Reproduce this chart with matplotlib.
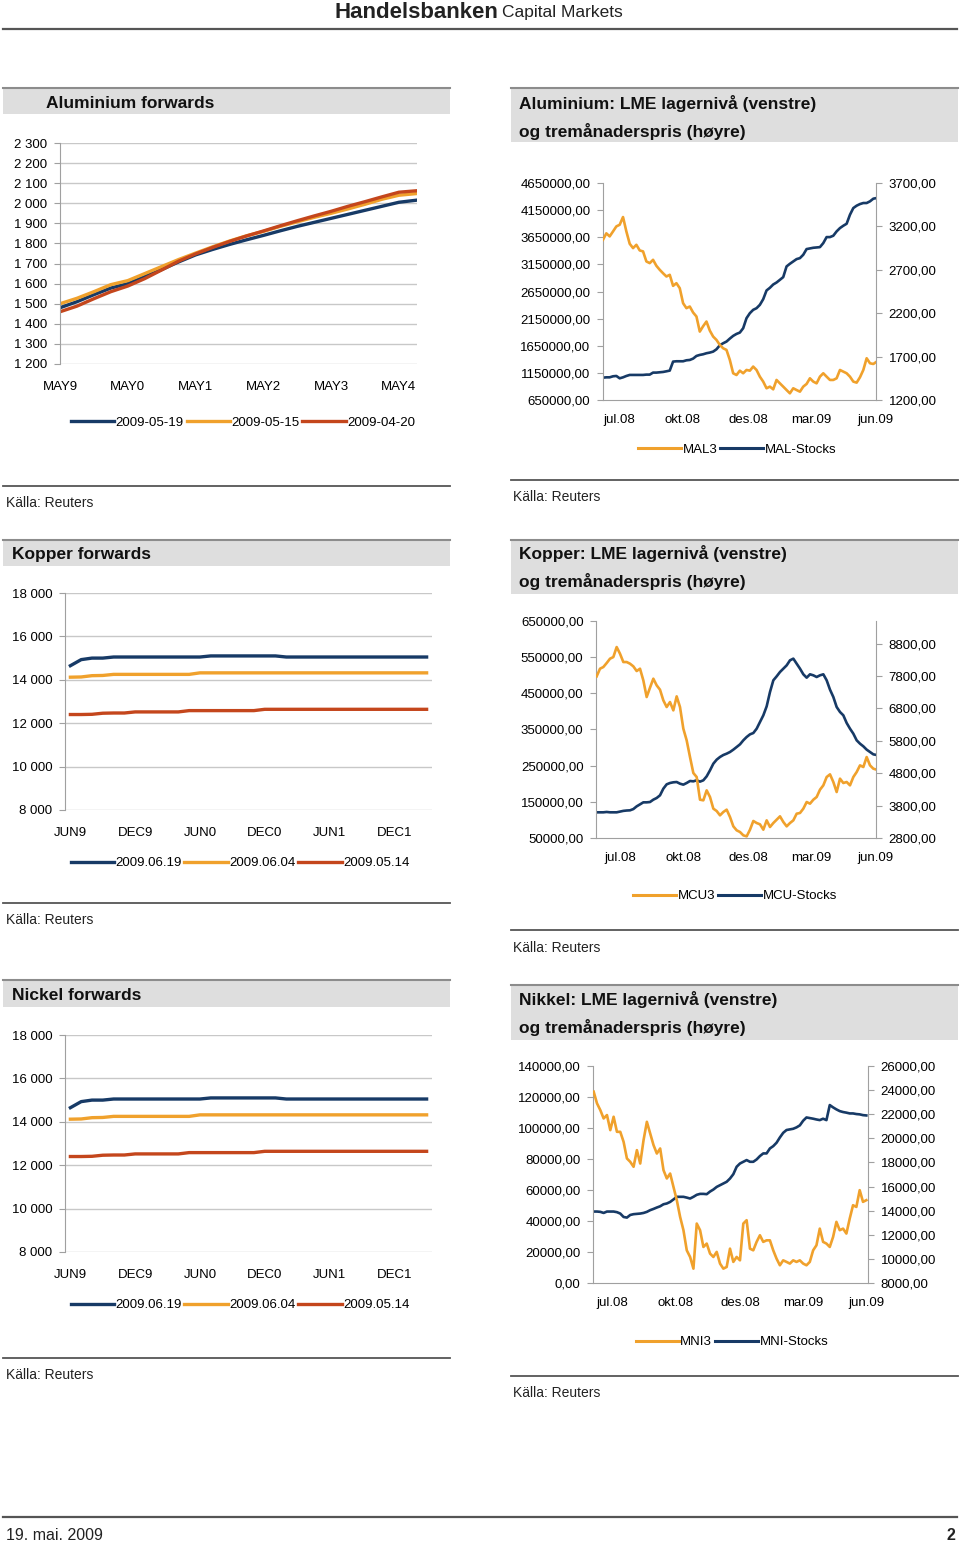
import numpy as np
import matplotlib
matplotlib.use("Agg")
import matplotlib.pyplot as plt
from matplotlib.patches import Rectangle
from matplotlib.lines import Line2D
from matplotlib.ticker import FuncFormatter

plt.rcParams['font.family'] = ['Liberation Sans', 'DejaVu Sans']

NAVY = '#173a66'
ORANGE = '#f0a12c'
RED = '#c4461c'
GRID = '#c8c8c8'
AXIS = '#a0a0a0'

# --- Aluminium forwards (month offset from MAY9) ---
AL_FWD_MONTH = [0, 3, 6, 9, 12, 15, 18, 21, 24, 27, 30, 33, 36, 39, 42, 45, 48, 51, 54, 57, 60, 63]
AL_FWD_0519 = [1480, 1510, 1545, 1578, 1600, 1635, 1670, 1708, 1743, 1770, 1795, 1818,
               1840, 1863, 1885, 1905, 1925, 1945, 1965, 1985, 2005, 2015]
AL_FWD_0515 = [1500, 1527, 1560, 1595, 1615, 1650, 1685, 1720, 1752, 1783, 1812, 1838,
               1860, 1885, 1908, 1930, 1950, 1972, 1995, 2020, 2040, 2048]
AL_FWD_0420 = [1460, 1488, 1525, 1560, 1588, 1625, 1668, 1712, 1748, 1780, 1810, 1837,
               1862, 1888, 1913, 1937, 1960, 1985, 2008, 2032, 2055, 2062]
AL_FWD_TICKS = ['MAY9', 'MAY0', 'MAY1', 'MAY2', 'MAY3', 'MAY4']
AL_FWD_DATES = ['2009-05-19', '2009-05-15', '2009-04-20']

# --- Kopper forwards (monthly from JUN9) ---
CU_FWD_0619 = [14650, 14930, 15000, 15000, 15050, 15050, 15050, 15050, 15050, 15050, 15050, 15050,
               15050, 15100, 15100, 15100, 15100, 15100, 15100, 15100, 15050, 15050, 15050, 15050,
               15050, 15050, 15050, 15050, 15050, 15050, 15050, 15050, 15050, 15050]
CU_FWD_0604 = [14120, 14130, 14190, 14200, 14250, 14250, 14250, 14250, 14250, 14250, 14250, 14250,
               14320, 14320, 14320, 14320, 14320, 14320, 14320, 14320, 14320, 14320, 14320, 14320,
               14320, 14320, 14320, 14320, 14320, 14320, 14320, 14320, 14320, 14320]
CU_FWD_0514 = [12400, 12400, 12410, 12460, 12470, 12470, 12520, 12520, 12520, 12520, 12520, 12580,
               12580, 12580, 12580, 12580, 12580, 12580, 12640, 12640, 12640, 12640, 12640, 12640,
               12640, 12640, 12640, 12640, 12640, 12640, 12640, 12640, 12640, 12640]
FWD_TICKS = ['JUN9', 'DEC9', 'JUN0', 'DEC0', 'JUN1', 'DEC1']
FWD_DATES = ['2009.06.19', '2009.06.04', '2009.05.14']

# --- Nickel forwards (the source shows the same curves as copper) ---
NI_FWD_0619 = list(CU_FWD_0619)
NI_FWD_0604 = list(CU_FWD_0604)
NI_FWD_0514 = list(CU_FWD_0514)

# --- LME stocks (left axis) and 3-month price (right axis) ---
MONTH_TICKS = ['jul.08', 'okt.08', 'des.08', 'mar.09', 'jun.09']

MAL_STOCKS = [1062000, 1068000, 1068000, 1087000, 1093000, 1050000, 1068000, 1093000, 1112000, 1112000,
              1112000, 1112000, 1112000, 1118000, 1118000, 1155000, 1155000, 1161000, 1167000, 1179000,
              1192000, 1358000, 1364000, 1364000, 1364000, 1382000, 1388000, 1413000, 1462000, 1481000,
              1493000, 1512000, 1524000, 1542000, 1585000, 1659000, 1696000, 1727000, 1782000, 1832000,
              1868000, 1893000, 1973000, 2158000, 2250000, 2312000, 2342000, 2404000, 2508000, 2669000,
              2718000, 2779000, 2816000, 2865000, 2915000, 3112000, 3161000, 3204000, 3247000, 3265000,
              3327000, 3432000, 3444000, 3456000, 3462000, 3468000, 3542000, 3653000, 3653000, 3678000,
              3758000, 3819000, 3862000, 3899000, 4065000, 4188000, 4232000, 4262000, 4281000, 4281000,
              4312000, 4361000, 4373000]
MAL3 = [3046, 3120, 3085, 3142, 3200, 3219, 3308, 3142, 3000, 2950,
        2988, 2923, 2912, 2796, 2777, 2815, 2746, 2700, 2660, 2623,
        2642, 2515, 2546, 2488, 2315, 2258, 2277, 2208, 2162, 1988,
        2050, 2104, 2000, 1931, 1892, 1835, 1796, 1777, 1662, 1508,
        1488, 1538, 1508, 1546, 1538, 1585, 1546, 1469, 1412, 1335,
        1354, 1323, 1431, 1392, 1354, 1315, 1277, 1335, 1315, 1296,
        1354, 1385, 1450, 1412, 1392, 1469, 1508, 1469, 1431, 1431,
        1450, 1546, 1527, 1508, 1469, 1412, 1400, 1462, 1546, 1681,
        1623, 1615, 1642]
MAL_TICK_POS = [4.8, 23.8, 43.5, 62.5, 81.5]

MCU_STOCKS = [121000, 121000, 121000, 122000, 121000, 121000, 121000, 123000, 125000, 126000,
              126500, 130000, 137500, 143000, 148600, 148600, 149500, 156000, 160600, 168000,
              186400, 198400, 202100, 204000, 204800, 200200, 197500, 202100, 207600, 206700,
              209500, 205800, 209500, 220500, 237100, 255500, 266600, 274000, 279500, 283200,
              287800, 294300, 301600, 309000, 320100, 329300, 336600, 340300, 352300, 370800,
              389200, 414100, 453700, 486000, 497000, 509000, 518200, 527400, 541300, 545900,
              532000, 518200, 502600, 493300, 502600, 499800, 495200, 499800, 502600, 486000,
              460200, 439900, 412200, 398400, 389200, 368000, 352300, 338500, 320100, 310800,
              303500, 294300, 287800, 281300, 279500]
MCU3 = [7791, 8027, 8079, 8202, 8336, 8387, 8696, 8490, 8233, 8233,
        8182, 8100, 7955, 8027, 7667, 7153, 7441, 7719, 7513, 7379,
        7050, 6844, 6998, 6741, 7173, 6844, 6175, 5815, 5300, 4807,
        4683, 3983, 3963, 4271, 4066, 3706, 3633, 3500, 3603, 3675,
        3448, 3160, 3037, 2985, 2882, 2851, 3057, 3325, 3263, 3222,
        3057, 3345, 3140, 3263, 3366, 3469, 3294, 3160, 3263, 3345,
        3551, 3572, 3706, 3911, 3860, 3983, 4066, 4292, 4426, 4683,
        4765, 4529, 4220, 4632, 4498, 4529, 4426, 4683, 4837, 5043,
        4992, 5300, 5043, 4940, 4909]
MCU_TICK_POS = [7.2, 26.2, 45.5, 64.5, 83.5]

MNI_STOCKS = [46100, 46100, 45900, 45200, 46100, 46100, 46100, 45700, 44800, 42600,
              42200, 43900, 44400, 44600, 44800, 45200, 45900, 47000, 47800, 48700,
              49500, 50800, 51300, 52300, 53900, 55600, 55600, 55600, 55100, 54500,
              55600, 56900, 57500, 57500, 57300, 59000, 60300, 62000, 63100, 64200,
              65300, 67400, 70200, 75000, 77100, 78200, 79300, 78200, 78200, 79700,
              81900, 83600, 83600, 86800, 88300, 90500, 93900, 96900, 98700, 99100,
              99500, 100400, 101700, 104700, 106800, 106400, 106000, 105500, 105100, 106000,
              105100, 114800, 113300, 112000, 110900, 110300, 109900, 109400, 109400, 109000,
              108800, 108300, 108100]
MNI3 = [23870, 22900, 22340, 21650, 21930, 20680, 21790, 20540, 20540, 19710,
        18330, 18050, 17640, 19020, 17910, 19850, 21370, 20400, 19440, 18740,
        19160, 17360, 16670, 17080, 15970, 14870, 13480, 12380, 10710, 10160,
        9190, 12930, 12380, 10990, 11270, 10440, 10160, 10580, 9610, 9190,
        9330, 10850, 9750, 10160, 9880, 12930, 13210, 10850, 10710, 11410,
        11960, 11410, 11540, 11540, 10710, 10020, 9470, 9880, 9750, 9610,
        9880, 9750, 9880, 9610, 9470, 9750, 10710, 11130, 12510, 11410,
        11270, 10990, 11820, 13070, 12380, 12510, 12100, 13340, 14450, 14310,
        15700, 14730, 14870]
MNI_TICK_POS = [5.7, 24.7, 44.0, 63.0, 82.0]

W, H = 960, 1542
fig = plt.figure(figsize=(W / 100, H / 100), dpi=100)
bg = fig.add_axes([0, 0, 1, 1])
bg.set_xlim(0, W)
bg.set_ylim(H, 0)
bg.axis('off')


def box(x0, y0, x1, y1):
    return [x0 / W, 1 - y1 / H, (x1 - x0) / W, (y1 - y0) / H]


def band(x0, x1, y0, y1):
    bg.add_patch(Rectangle((x0, y0), x1 - x0, y1 - y0, facecolor='#dedede', edgecolor='none'))
    bg.plot([x0, x1], [y0, y0], color='#8c8c8c', lw=1.5)


def rule(x0, x1, y, lw=1.3):
    bg.plot([x0, x1], [y, y], color='#555555', lw=lw)


space_fmt = FuncFormatter(lambda v, p: f'{v:,.0f}'.replace(',', ' '))
comma_fmt = FuncFormatter(lambda v, p: f'{v:.2f}'.replace('.', ','))


def forward_chart(rect, x, series, dates, xlim, ylim, yticks, xticks, xlabels, legend_xy):
    ax = fig.add_axes(box(*rect))
    ax.set_facecolor('none')
    for y, c, lab in zip(series, [NAVY, ORANGE, RED], dates):
        ax.plot(x, y, color=c, lw=2.4, label=lab)
    ax.set_xlim(*xlim)
    ax.set_ylim(*ylim)
    ax.set_yticks(yticks)
    ax.yaxis.set_major_formatter(space_fmt)
    ax.set_xticks(xticks)
    ax.set_xticklabels(xlabels)
    ax.grid(axis='y', color=GRID, lw=1)
    ax.set_axisbelow(True)
    for s in ['top', 'right', 'bottom']:
        ax.spines[s].set_visible(False)
    ax.spines['left'].set_color(AXIS)
    ax.tick_params(axis='y', length=4, color=AXIS, pad=5, labelsize=9.5)
    ax.tick_params(axis='x', length=0, pad=12, labelsize=9.5)
    ax.legend(loc='center', bbox_to_anchor=legend_xy, bbox_transform=bg.transData, ncol=3,
              frameon=False, fontsize=9.5, handlelength=3.3, handletextpad=0.1, columnspacing=0.2)
    return ax


def stock_chart(rect, stocks, price, names, xlim, ylim_l, yticks_l, ylim_r, yticks_r, tick_pos, legend_xy):
    ax = fig.add_axes(box(*rect))
    ax.set_facecolor('none')
    ax.plot(np.arange(len(stocks)), stocks, color=NAVY, lw=1.9)
    ax2 = ax.twinx()
    ax2.plot(np.arange(len(price)), price, color=ORANGE, lw=1.9)
    ax.set_xlim(*xlim)
    ax.set_ylim(*ylim_l)
    ax.set_yticks(yticks_l)
    ax2.set_ylim(*ylim_r)
    ax2.set_yticks(yticks_r)
    ax.yaxis.set_major_formatter(comma_fmt)
    ax2.yaxis.set_major_formatter(comma_fmt)
    ax.set_xticks(tick_pos)
    ax.set_xticklabels(MONTH_TICKS)
    for a in (ax, ax2):
        a.spines['top'].set_visible(False)
        for s in ['left', 'right', 'bottom']:
            a.spines[s].set_color(AXIS)
    ax.spines['right'].set_visible(False)
    ax2.spines['left'].set_visible(False)
    ax2.spines['bottom'].set_visible(False)
    ax.tick_params(axis='y', length=4, color=AXIS, pad=5, labelsize=9.5)
    ax2.tick_params(axis='y', length=4, color=AXIS, pad=5, labelsize=9.5)
    ax.tick_params(axis='x', length=0, pad=10, labelsize=9.5)
    handles = [Line2D([], [], color=ORANGE, lw=2.2), Line2D([], [], color=NAVY, lw=2.2)]
    ax2.legend(handles, names, loc='center', bbox_to_anchor=legend_xy, bbox_transform=bg.transData,
               ncol=2, frameon=False, fontsize=9.5, handlelength=3.3, handletextpad=0.1,
               columnspacing=0.2)
    return ax, ax2


# page header / footer
bg.text(498, 12, 'Handelsbanken', ha='right', va='center', fontsize=16, fontweight='bold', color='#222222')
bg.text(502, 13, 'Capital Markets', ha='left', va='center', fontsize=12.5, color='#222222')
rule(3, 957, 29, lw=1.6)
rule(3, 957, 1517, lw=1.6)
bg.text(6, 1535, '19. mai. 2009', ha='left', va='center', fontsize=11.5, color='#222222')
bg.text(955, 1535, '2', ha='right', va='center', fontsize=11.5, fontweight='bold', color='#222222')

# title bands
band(3, 450, 88, 114)
bg.text(46, 104, 'Aluminium forwards', ha='left', va='center', fontsize=12.5, fontweight='bold', color='#111111')
band(511, 958, 88, 142)
bg.text(519, 104, 'Aluminium: LME lagernivå (venstre)', ha='left', va='center', fontsize=12.5,
        fontweight='bold', color='#111111')
bg.text(519, 132, 'og tremånaderspris (høyre)', ha='left', va='center', fontsize=12.5,
        fontweight='bold', color='#111111')

band(3, 450, 540, 566)
bg.text(12, 554, 'Kopper forwards', ha='left', va='center', fontsize=12.5, fontweight='bold', color='#111111')
band(511, 958, 540, 594)
bg.text(519, 554, 'Kopper: LME lagernivå (venstre)', ha='left', va='center', fontsize=12.5,
        fontweight='bold', color='#111111')
bg.text(519, 582, 'og tremånaderspris (høyre)', ha='left', va='center', fontsize=12.5,
        fontweight='bold', color='#111111')

band(3, 450, 980, 1007)
bg.text(12, 995, 'Nickel forwards', ha='left', va='center', fontsize=12.5, fontweight='bold', color='#111111')
band(511, 958, 985, 1040)
bg.text(519, 999, 'Nikkel: LME lagernivå (venstre)', ha='left', va='center', fontsize=12.5,
        fontweight='bold', color='#111111')
bg.text(519, 1027, 'og tremånaderspris (høyre)', ha='left', va='center', fontsize=12.5,
        fontweight='bold', color='#111111')

# source lines
for x0, x1, y, ty, tx in [(3, 450, 486, 503, 6), (511, 958, 480, 497, 513),
                          (3, 450, 903, 920, 6), (511, 958, 930, 948, 513),
                          (3, 450, 1358, 1375, 6), (511, 958, 1376, 1393, 513)]:
    rule(x0, x1, y)
    bg.text(tx, ty, 'Källa: Reuters', ha='left', va='center', fontsize=10, color='#222222')

# forward curves
forward_chart((60, 143, 417, 364), AL_FWD_MONTH, [AL_FWD_0519, AL_FWD_0515, AL_FWD_0420], AL_FWD_DATES,
              (0, 63.2), (1200, 2300), np.arange(1200, 2301, 100), [0, 12, 24, 36, 48, 60],
              AL_FWD_TICKS, (243, 423))

fwd_x = np.arange(len(CU_FWD_0619))
forward_chart((65, 593, 432, 810), fwd_x, [CU_FWD_0619, CU_FWD_0604, CU_FWD_0514], FWD_DATES,
              (-0.5, 33.5), (8000, 18000), np.arange(8000, 18001, 2000), [0, 6, 12, 18, 24, 30],
              FWD_TICKS, (240, 863))

forward_chart((65, 1035, 432, 1252), fwd_x, [NI_FWD_0619, NI_FWD_0604, NI_FWD_0514], FWD_DATES,
              (-0.5, 33.5), (8000, 18000), np.arange(8000, 18001, 2000), [0, 6, 12, 18, 24, 30],
              FWD_TICKS, (240, 1305))

# stocks vs 3-month price
stock_chart((603, 183, 876, 400), MAL_STOCKS, MAL3, ['MAL3', 'MAL-Stocks'], (0, 81.8),
            (650000, 4650000), np.arange(650000, 4650001, 500000),
            (1200, 3700), np.arange(1200, 3701, 500), MAL_TICK_POS, (737, 450))

stock_chart((596, 621, 876, 838), MCU_STOCKS, MCU3, ['MCU3', 'MCU-Stocks'], (-0.2, 83.8),
            (50000, 650000), np.arange(50000, 650001, 100000),
            (2800, 9500), np.arange(2800, 8801, 1000), MCU_TICK_POS, (735, 896))

stock_chart((593, 1066, 868, 1283), MNI_STOCKS, MNI3, ['MNI3', 'MNI-Stocks'], (-0.2, 82.5),
            (0, 140000), np.arange(0, 140001, 20000),
            (8000, 26000), np.arange(8000, 26001, 2000), MNI_TICK_POS, (732, 1342))

fig.savefig('out.png', dpi=100)
